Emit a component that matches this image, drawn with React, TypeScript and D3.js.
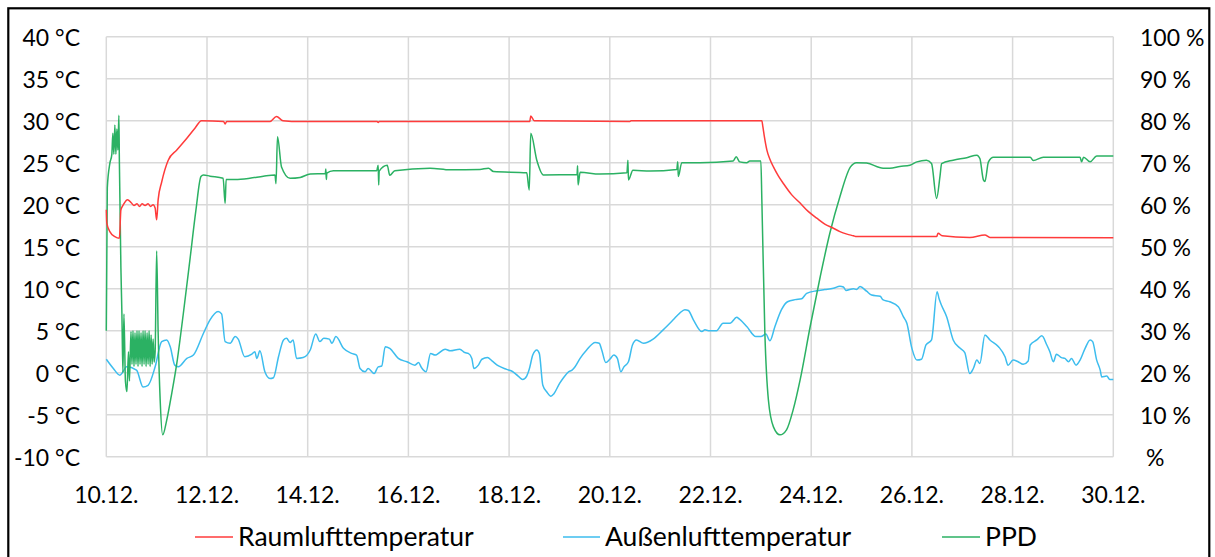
import React from 'react';
import * as d3 from 'd3';

type P = [number, number];

// x = days after 10.12.
const xTickDays = [0, 2, 4, 6, 8, 10, 12, 14, 16, 18, 20];
const xTickLabels = ["10.12.", "12.12.", "14.12.", "16.12.", "18.12.", "20.12.", "22.12.", "24.12.", "26.12.", "28.12.", "30.12."];
const leftTicks = [-10, -5, 0, 5, 10, 15, 20, 25, 30, 35, 40];
const leftTickLabels = ["-10 °C", "-5 °C", "0 °C", "5 °C", "10 °C", "15 °C", "20 °C", "25 °C", "30 °C", "35 °C", "40 °C"];
const rightTicks = [0, 10, 20, 30, 40, 50, 60, 70, 80, 90, 100];
const rightTickLabels = [" %", "10 %", "20 %", "30 %", "40 %", "50 %", "60 %", "70 %", "80 %", "90 %", "100 %"];
const seriesNames = ["Raumlufttemperatur", "Außenlufttemperatur", "PPD"];

// Raumlufttemperatur (°C, left axis)
const raum: P[] = [
  [0.00, 19.4], [0.01, 17.8], [0.07, 16.8], [0.17, 16.2], [0.26, 16.0], [0.29, 19.4], [0.34, 20.0], [0.42, 20.6],
  [0.50, 20.2], [0.55, 19.9], [0.61, 20.1], [0.66, 19.8], [0.71, 20.1], [0.77, 19.9], [0.83, 20.1], [0.88, 19.8],
  [0.93, 20.0], [0.97, 19.6], [1.00, 18.2], [1.03, 20.6], [1.10, 22.7], [1.23, 25.3], [1.40, 26.5], [1.60, 27.9],
  [1.76, 29.1], [1.89, 30.0], [2.33, 29.9], [2.36, 29.6], [2.39, 29.9], [3.25, 29.9], [3.38, 30.5], [3.51, 30.0],
  [3.85, 29.9], [5.38, 29.9], [5.40, 29.8], [5.42, 29.9], [8.41, 29.9], [8.43, 30.55], [8.50, 30.0], [10.40, 29.9],
  [10.42, 30.0], [13.02, 30.0], [13.04, 29.3], [13.07, 28.1], [13.12, 26.5], [13.18, 25.4], [13.25, 24.5], [13.35, 23.4],
  [13.45, 22.5], [13.61, 21.2], [13.78, 20.2], [13.94, 19.2], [14.11, 18.4], [14.27, 17.7], [14.44, 17.2], [14.57, 16.8],
  [14.71, 16.5], [14.84, 16.3], [14.90, 16.2], [16.49, 16.2], [16.52, 16.6], [16.60, 16.3], [17.15, 16.1],
  [17.45, 16.4], [17.55, 16.1], [20.00, 16.07]
];

// Außenlufttemperatur (°C, left axis)
const aussen: P[] = [
  [0.00, 1.6], [0.14, 0.5], [0.27, -0.3], [0.33, 0.1], [0.40, 0.7], [0.60, 0.3], [0.73, -1.7], [0.83, -1.5],
  [0.97, 0.7], [1.10, 3.7], [1.20, 3.9], [1.27, 3.1], [1.36, 0.9], [1.43, 0.7], [1.60, 1.7], [1.73, 2.1],
  [1.93, 4.7], [2.06, 6.3], [2.22, 7.3], [2.29, 7.0], [2.36, 3.7], [2.46, 3.5], [2.56, 4.3], [2.62, 4.0],
  [2.75, 1.9], [2.89, 2.2], [2.95, 2.5], [2.99, 1.7], [3.05, 2.6], [3.15, 0.1], [3.25, -0.7], [3.32, -0.6],
  [3.42, 1.9], [3.52, 3.9], [3.58, 4.1], [3.65, 3.6], [3.71, 3.9], [3.78, 1.7], [3.91, 1.8], [4.05, 2.7],
  [4.16, 4.6], [4.24, 3.7], [4.32, 4.1], [4.43, 4.0], [4.48, 3.5], [4.56, 4.3], [4.71, 2.9], [4.87, 2.3],
  [4.97, 2.1], [5.04, 0.5], [5.14, 0.1], [5.20, 0.5], [5.32, -0.1], [5.40, 0.7], [5.47, 0.8], [5.54, 3.1],
  [5.63, 2.9], [5.80, 1.7], [5.97, 1.3], [6.13, 0.9], [6.20, 1.2], [6.26, 0.6], [6.35, 0.1], [6.44, 2.3],
  [6.53, 2.1], [6.73, 2.8], [6.83, 2.6], [7.02, 2.8], [7.12, 2.4], [7.19, 2.3], [7.26, 1.7], [7.30, 0.5],
  [7.39, 0.9], [7.46, 1.6], [7.57, 1.8], [7.66, 1.4], [7.79, 0.8], [7.95, 0.4], [8.05, 0.2], [8.18, -0.4],
  [8.27, -0.8], [8.35, -0.4], [8.40, 0.4], [8.47, 2.1], [8.55, 2.7], [8.60, 2.3], [8.67, -1.5], [8.75, -2.3],
  [8.83, -2.8], [8.89, -2.5], [9.00, -1.3], [9.08, -0.6], [9.18, 0.1], [9.25, 0.3], [9.31, 0.7], [9.41, 1.7],
  [9.54, 2.7], [9.71, 3.6], [9.79, 3.5], [9.84, 2.7], [9.92, 1.2], [10.00, 1.6], [10.08, 2.1], [10.15, 1.7],
  [10.22, 0.1], [10.28, 0.7], [10.37, 1.3], [10.45, 3.3], [10.53, 3.9], [10.67, 3.5], [10.86, 4.0], [11.06, 5.1],
  [11.26, 6.3], [11.39, 7.1], [11.49, 7.5], [11.56, 7.4], [11.66, 6.3], [11.83, 4.9], [11.89, 5.1], [11.96, 5.0],
  [12.06, 5.0], [12.12, 5.0], [12.25, 5.9], [12.39, 5.9], [12.52, 6.6], [12.57, 6.4], [12.72, 5.5], [12.90, 4.3],
  [13.00, 4.3], [13.10, 4.6], [13.18, 3.8], [13.28, 5.5], [13.41, 7.5], [13.53, 8.45], [13.68, 8.7], [13.81, 8.8],
  [13.91, 9.45], [14.11, 9.76], [14.27, 9.9], [14.44, 10.05], [14.57, 10.3], [14.64, 10.2], [14.69, 9.8], [14.84, 10.0],
  [14.90, 9.9], [14.97, 10.25], [15.10, 9.7], [15.20, 9.25], [15.37, 9.1], [15.42, 8.7], [15.56, 8.45], [15.73, 7.86],
  [15.83, 6.67], [15.90, 5.88], [16.00, 2.9], [16.10, 1.5], [16.19, 1.6], [16.28, 3.3], [16.39, 3.9], [16.50, 9.64],
  [16.54, 8.8], [16.59, 8.0], [16.69, 6.67], [16.82, 3.9], [16.96, 2.9], [17.05, 2.4], [17.15, -0.1], [17.22, 0.5],
  [17.29, 1.5], [17.35, 1.1], [17.45, 4.5], [17.55, 3.9], [17.72, 3.1], [17.85, 1.9], [17.91, 0.9], [18.01, 1.5],
  [18.11, 1.3], [18.21, 1.0], [18.31, 1.4], [18.35, 3.3], [18.48, 3.9], [18.58, 4.4], [18.68, 3.3], [18.74, 2.5],
  [18.81, 1.3], [18.87, 2.2], [18.97, 1.8], [19.04, 1.7], [19.11, 1.3], [19.17, 1.7], [19.26, 0.9], [19.34, 1.5],
  [19.44, 2.9], [19.54, 3.9], [19.59, 3.7], [19.67, 1.5], [19.74, 0.3], [19.77, -0.5], [19.87, -0.4], [19.93, -0.8],
  [20.00, -0.8]
];

// PPD (%, right axis)
const ppd: P[] = [
  [0.00, 30], [0.02, 64], [0.07, 69.8], [0.11, 72], [0.13, 77], [0.15, 72], [0.17, 79], [0.19, 72], [0.21, 78],
  [0.23, 73], [0.25, 81.3], [0.26, 70], [0.29, 45], [0.31, 34], [0.33, 20], [0.35, 34], [0.38, 18], [0.41, 15.5],
  [0.44, 25], [0.46, 18], [0.49, 29.8], [0.51, 22], [0.53, 30], [0.55, 21.5], [0.57, 29.5], [0.59, 22], [0.61, 30],
  [0.63, 21.5], [0.65, 30], [0.67, 22], [0.69, 29.5], [0.71, 21.5], [0.73, 30], [0.75, 22], [0.77, 30], [0.79, 21.5],
  [0.81, 29.5], [0.83, 22], [0.85, 30], [0.87, 21.5], [0.89, 29], [0.91, 22], [0.93, 28], [0.95, 22.5], [0.97, 25],
  [1.00, 49], [1.03, 29.4], [1.07, 13.5], [1.12, 5.2], [1.20, 8.7], [1.30, 15.1], [1.40, 22.2], [1.53, 34.1],
  [1.66, 46.8], [1.78, 58.7], [1.88, 66.7], [1.93, 67.1], [2.06, 66.8], [2.32, 66.3], [2.36, 60.3], [2.38, 66],
  [2.56, 66], [2.85, 66.3], [3.12, 66.8], [3.35, 67.1], [3.37, 65], [3.40, 76.2], [3.48, 69], [3.65, 66.3],
  [3.85, 66.5], [4.05, 67.3], [4.35, 67.4], [4.36, 68.5], [4.37, 66], [4.38, 67.5], [4.51, 68.1], [5.37, 68.1],
  [5.40, 69.4], [5.41, 64.7], [5.42, 68], [5.58, 69.4], [5.63, 67], [5.73, 68.1], [6.43, 68.7], [6.83, 68.3],
  [7.42, 68.4], [7.59, 68.7], [7.69, 67.9], [8.35, 67.6], [8.40, 63.5], [8.43, 77], [8.55, 70.6], [8.68, 67.1],
  [9.35, 67.2], [9.36, 69.3], [9.37, 64.7], [9.41, 67.7], [9.80, 67.3], [10.34, 67.6], [10.36, 70.6], [10.37, 65.9],
  [10.46, 68.2], [10.80, 68], [11.33, 68.4], [11.35, 70.2], [11.36, 66.7], [11.43, 70.0], [11.79, 70.0], [12.45, 70.4],
  [12.51, 71.4], [12.58, 70.2], [12.72, 70.0], [12.78, 70.4], [13.00, 70.4], [13.02, 61], [13.08, 29.4], [13.15, 13.5],
  [13.25, 7.1], [13.38, 5.2], [13.51, 6.4], [13.64, 11.1], [13.78, 18.3], [13.98, 31], [14.18, 42.9], [14.37, 53.2],
  [14.57, 61.9], [14.78, 69], [14.90, 70.0], [15.10, 69.9], [15.43, 68.7], [15.56, 68.7], [15.76, 69.1], [15.96, 69.4],
  [16.10, 70.2], [16.29, 70.6], [16.39, 69.8], [16.49, 61.5], [16.56, 67], [16.59, 69.8], [16.82, 70.6], [17.09, 71.2],
  [17.29, 71.8], [17.35, 71], [17.42, 65.9], [17.45, 65.5], [17.52, 70.2], [17.62, 71.3], [18.35, 71.3], [18.41, 70.5],
  [18.61, 71.3], [19.34, 71.3], [19.37, 70.2], [19.41, 71.3], [19.54, 70.2], [19.67, 71.6], [20.00, 71.6]
];

const colors = ["#FF3B3B", "#3DBDEE", "#2BB163"];
const FONT = "Lato, 'Open Sans', sans-serif";

export default function App() {
  const W = 1215, H = 557;
  const left = 106.3, right = 1113.3, top = 36.7, bottom = 456.7;
  const x = d3.scaleLinear().domain([0, 20]).range([left, right]);
  const yL = d3.scaleLinear().domain([-10, 40]).range([bottom, top]);
  const yR = d3.scaleLinear().domain([0, 100]).range([bottom, top]);
  const lineL = d3.line<P>().x(d => x(d[0])).y(d => yL(d[1])).curve(d3.curveMonotoneX);
  const lineR = d3.line<P>().x(d => x(d[0])).y(d => yR(d[1])).curve(d3.curveMonotoneX);

  const legend = [
    { lx1: 195, lx2: 233, tx: 238 },
    { lx1: 563, lx2: 600, tx: 605 },
    { lx1: 942, lx2: 980, tx: 985 },
  ];

  return (
    <svg width={W} height={H} style={{ position: 'absolute', left: 0, top: 0, background: '#fff' }} fontFamily={FONT}>
      <rect x={0} y={0} width={W} height={H} fill="#fff" />
      <rect x={8.3} y={8.3} width={1201} height={700} fill="none" stroke="#000" strokeWidth={2.2} />
      {/* gridlines */}
      {leftTicks.map((t, i) => (
        <line key={'h' + i} x1={left} x2={right} y1={yL(t)} y2={yL(t)} stroke="#D9D9D9" strokeWidth={1.5} />
      ))}
      {xTickDays.map((d, i) => (
        <line key={'v' + i} x1={x(d)} x2={x(d)} y1={top} y2={bottom} stroke="#D9D9D9" strokeWidth={1.5} />
      ))}
      {/* series */}
      <path d={lineL(aussen) || ''} fill="none" stroke={colors[1]} strokeWidth={1.5} strokeLinejoin="round" />
      <path d={lineR(ppd) || ''} fill="none" stroke={colors[2]} strokeWidth={1.5} strokeLinejoin="round" />
      <path d={lineL(raum) || ''} fill="none" stroke={colors[0]} strokeWidth={1.5} strokeLinejoin="round" />
      {/* left axis labels */}
      {leftTicks.map((t, i) => (
        <text key={'l' + i} x={80} y={yL(t)} textAnchor="end" dominantBaseline="central" fontSize={23} fill="#000">
          {leftTickLabels[i]}
        </text>
      ))}
      {/* right axis labels */}
      {rightTicks.map((t, i) => (
        <text key={'r' + i} x={1140} y={yR(t)} textAnchor="start" dominantBaseline="central" fontSize={23} fill="#000" style={{ whiteSpace: 'pre' }}>
          {rightTickLabels[i]}
        </text>
      ))}
      {/* x labels */}
      {xTickDays.map((d, i) => (
        <text key={'x' + i} x={x(d)} y={494} textAnchor="middle" dominantBaseline="central" fontSize={23} fill="#000">
          {xTickLabels[i]}
        </text>
      ))}
      {/* legend */}
      {legend.map((l, i) => (
        <g key={'lg' + i}>
          <line x1={l.lx1} x2={l.lx2} y1={537} y2={537} stroke={colors[i]} strokeWidth={1.5} />
          <text x={l.tx} y={536} dominantBaseline="central" fontSize={26.5} fill="#000">{seriesNames[i]}</text>
        </g>
      ))}
    </svg>
  );
}
